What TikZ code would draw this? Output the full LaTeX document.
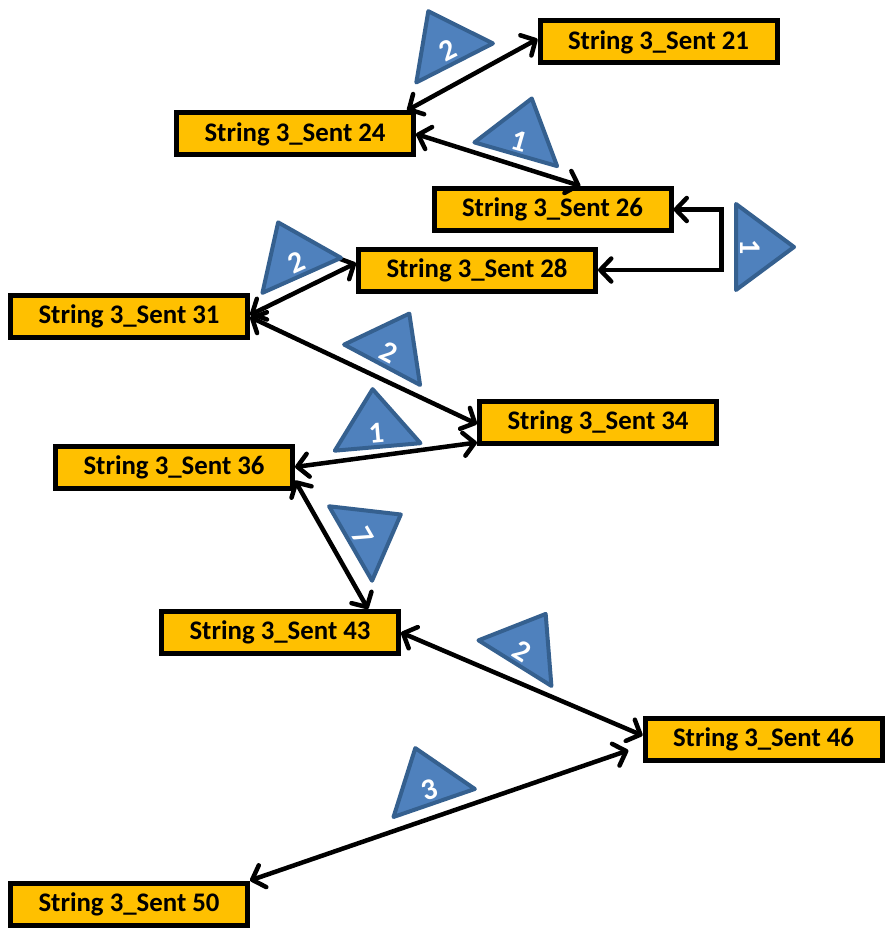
\documentclass[tikz,border=0pt]{standalone}
\usepackage{fontspec}
\setmainfont{Carlito}
\usetikzlibrary{arrows.meta}
\definecolor{boxorange}{HTML}{FFC000}
\definecolor{triblue}{HTML}{4F81BD}
\definecolor{triedge}{HTML}{35608F}
\tikzset{
  sent/.style={draw, fill=boxorange, line width=5pt, minimum width=237pt, minimum height=42pt,
    inner sep=0pt, font=\fontsize{26.8}{30}\selectfont\bfseries},
  link/.style={<->, line width=4.5pt},
  cnt/.pic={
    \draw[fill=triblue, draw=triedge, line width=4pt, line join=round] (-43,-19) -- (43,-19) -- (0,39) -- cycle;
    \node[transform shape, text=white, font=\fontsize{30}{30}\selectfont\bfseries] (-n) at (0,-5) {#1};
  },
  >={Straight Barb[round,length=11pt,width=23pt]}
}
\begin{document}
\begin{tikzpicture}[x=1pt, y=1pt]
\useasboundingbox (0,0) rectangle (885,-928);
\node[sent] (s21) at (658.5,-42) {String 3\_Sent 21};
\node[sent] (s24) at (295,-134) {String 3\_Sent 24};
\node[sent] (s26) at (552.5,-209.5) {String 3\_Sent 26};
\node[sent] (s28) at (477,-270) {String 3\_Sent 28};
\node[sent] (s31) at (129,-316) {String 3\_Sent 31};
\node[sent] (s34) at (598,-422) {String 3\_Sent 34};
\node[sent] (s36) at (174,-467) {String 3\_Sent 36};
\node[sent] (s43) at (280,-632.5) {String 3\_Sent 43};
\node[sent] (s46) at (763.5,-739.5) {String 3\_Sent 46};
\node[sent] (s50) at (129,-904) {String 3\_Sent 50};
\draw [link] ([xshift=-9pt]s24.north east) -- ([yshift=3pt]s21.west);
\draw [link] (s24.east) -- ([xshift=28pt]s26.north);
\draw [link] (s26.east) -- ++(48,0) |- (s28.east);
\draw [link] ([yshift=1pt]s31.east) -- ([yshift=7pt]s28.west);
\draw [link] ([yshift=-1pt]s31.east) -- ([yshift=-2pt]s34.west);
\draw [link] (s36.east) -- ([yshift=3pt]s34.south west);
\draw [link] ([yshift=10pt]s36.south east) -- ([xshift=88pt]s43.north);
\draw [link] (s43.east) -- ([yshift=4pt]s46.west);
\draw [link, shorten >=15pt] (s50.north east) -- ([yshift=-6pt]s46.west);
\pic[rotate=27] (w1) at (446,-46) {cnt=2};
\pic[rotate=-16] (w2) at (521,-136) {cnt=1};
\pic[rotate=-90] (w3) at (755,-247) {cnt=1};
\pic[rotate=24] (w4) at (294,-258) {cnt=2};
\pic[rotate=-28] (w5) at (391,-348) {cnt=2};
\pic[rotate=5] (w6) at (376,-428) {cnt=1};
\pic[rotate=-60] (w7) at (367,-534) {cnt=7};
\pic[rotate=-32] (w8) at (525,-647) {cnt=2};
\pic[rotate=19] (w9) at (428,-785) {cnt=3};
\end{tikzpicture}
\end{document}
